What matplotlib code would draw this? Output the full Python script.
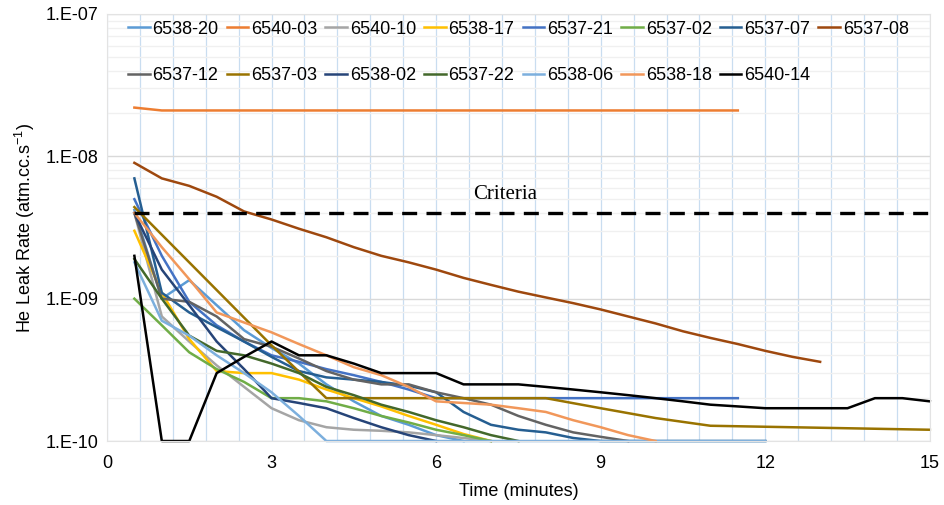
import matplotlib
matplotlib.use('Agg')
import matplotlib.pyplot as plt
from matplotlib.ticker import FixedLocator, MultipleLocator, NullFormatter, LogLocator

plt.rcParams['font.family'] = ['Liberation Sans', 'DejaVu Sans']

# series data: time (minutes) and He leak rate (atm.cc/s)
names = ['6538-20', '6540-03', '6540-10', '6538-17', '6537-21', '6537-02', '6537-07', '6537-08',
         '6537-12', '6537-03', '6538-02', '6537-22', '6538-06', '6538-18', '6540-14']
colors = ['#5B9BD5', '#ED7D31', '#A5A5A5', '#FFC000', '#4472C4', '#70AD47', '#255E91', '#9E480E',
          '#636363', '#997300', '#264478', '#43682B', '#7CAFDD', '#F1975A', '#000000']

t_6538_20 = [0.5, 1, 1.5, 2, 2.5, 3, 3.5, 4, 4.5, 5, 5.5, 6, 6.5]
v_6538_20 = [4.2e-9, 1.0e-9, 1.35e-9, 9e-10, 6e-10, 4.5e-10, 3.5e-10, 2.5e-10, 1.9e-10, 1.5e-10, 1.3e-10, 1.1e-10, 1e-10]

t_6540_03 = [0.5, 1, 11.5]
v_6540_03 = [2.2e-8, 2.1e-8, 2.1e-8]

t_6540_10 = [0.5, 1, 1.5, 2, 2.5, 3, 3.5, 4, 4.5, 5, 5.5, 6, 6.5, 7]
v_6540_10 = [4e-9, 7.5e-10, 5e-10, 3.4e-10, 2.4e-10, 1.7e-10, 1.4e-10, 1.25e-10, 1.2e-10, 1.18e-10, 1.15e-10, 1.1e-10, 1.05e-10, 1e-10]

t_6538_17 = [0.5, 1, 1.5, 2, 2.5, 3, 3.5, 4, 4.5, 5, 5.5, 6, 6.5, 7]
v_6538_17 = [3e-9, 1.1e-9, 5.2e-10, 3.1e-10, 3e-10, 3e-10, 2.7e-10, 2.3e-10, 2e-10, 1.75e-10, 1.5e-10, 1.3e-10, 1.12e-10, 1e-10]

t_6537_21 = [0.5, 1, 1.5, 2, 2.5, 3, 3.5, 4, 4.5, 5, 5.5, 6, 11.5]
v_6537_21 = [5e-9, 2e-9, 9.5e-10, 6.5e-10, 5e-10, 4e-10, 3.6e-10, 3.2e-10, 2.9e-10, 2.6e-10, 2.3e-10, 2e-10, 2e-10]

t_6537_02 = [0.5, 1, 1.5, 2, 2.5, 3, 3.5, 4, 4.5, 5, 5.5, 6, 6.5, 7]
v_6537_02 = [1e-9, 6.5e-10, 4.2e-10, 3.2e-10, 2.6e-10, 2e-10, 2e-10, 1.9e-10, 1.7e-10, 1.5e-10, 1.35e-10, 1.2e-10, 1.1e-10, 1e-10]

t_6537_07 = [0.5, 1, 1.5, 2, 2.5, 3, 3.5, 4, 4.5, 5, 5.5, 6, 6.5, 7, 7.5, 8, 8.5, 9, 12]
v_6537_07 = [7e-9, 1.1e-9, 8e-10, 6.3e-10, 5e-10, 3.9e-10, 3.1e-10, 2.8e-10, 2.7e-10, 2.6e-10, 2.45e-10, 2.2e-10,
             1.6e-10, 1.3e-10, 1.2e-10, 1.15e-10, 1.05e-10, 1e-10, 1e-10]

t_6537_08 = [0.5, 1, 1.5, 2, 2.5, 3, 3.5, 4, 4.5, 5, 5.5, 6, 6.5, 7, 7.5, 8, 8.5, 9, 9.5, 10, 10.5, 11, 11.5, 12, 12.5, 13]
v_6537_08 = [9e-9, 7e-9, 6.2e-9, 5.2e-9, 4.1e-9, 3.6e-9, 3.1e-9, 2.7e-9, 2.3e-9, 2.0e-9, 1.8e-9, 1.6e-9, 1.4e-9,
             1.25e-9, 1.12e-9, 1.02e-9, 9.3e-10, 8.4e-10, 7.5e-10, 6.7e-10, 5.9e-10, 5.3e-10, 4.8e-10, 4.3e-10, 3.9e-10, 3.6e-10]

t_6537_12 = [0.5, 1, 1.5, 2, 2.5, 3, 3.5, 4, 4.5, 5, 5.5, 6, 6.5, 7, 7.5, 8, 8.5, 9, 9.5]
v_6537_12 = [4e-9, 1e-9, 9.5e-10, 7.5e-10, 5.2e-10, 4.6e-10, 3.8e-10, 3.1e-10, 2.7e-10, 2.5e-10, 2.5e-10, 2.2e-10,
             2e-10, 1.8e-10, 1.5e-10, 1.3e-10, 1.15e-10, 1.07e-10, 1e-10]

t_6537_03 = [0.5, 3, 4, 8, 9, 10, 11, 15]
v_6537_03 = [4.4e-9, 4.7e-10, 2e-10, 2e-10, 1.7e-10, 1.45e-10, 1.28e-10, 1.2e-10]

t_6538_02 = [0.5, 1, 1.5, 2, 2.5, 3, 3.5, 4, 4.5, 5, 5.5, 6]
v_6538_02 = [4e-9, 1.6e-9, 9e-10, 5e-10, 3.2e-10, 2e-10, 1.85e-10, 1.7e-10, 1.45e-10, 1.25e-10, 1.1e-10, 1e-10]

t_6537_22 = [0.5, 1, 1.5, 2, 2.5, 3, 3.5, 4, 4.5, 5, 5.5, 6, 6.5, 7, 7.5]
v_6537_22 = [1.9e-9, 1e-9, 5.5e-10, 4.3e-10, 4e-10, 3.5e-10, 3e-10, 2.4e-10, 2.1e-10, 1.8e-10, 1.6e-10, 1.4e-10,
             1.25e-10, 1.1e-10, 1e-10]

t_6538_06 = [0.5, 1, 1.5, 2, 2.5, 3, 3.5, 4, 12]
v_6538_06 = [1.8e-9, 7e-10, 5.5e-10, 4e-10, 3e-10, 2.2e-10, 1.5e-10, 1e-10, 1e-10]

t_6538_18 = [0.5, 1, 1.5, 2, 2.5, 3, 3.5, 4, 4.5, 5, 5.5, 6, 6.5, 7, 7.5, 8, 8.5, 9, 9.5, 10]
v_6538_18 = [4e-9, 2.3e-9, 1.37e-9, 8e-10, 6.8e-10, 5.8e-10, 4.8e-10, 4e-10, 3.3e-10, 2.9e-10, 2.4e-10, 1.9e-10,
             1.85e-10, 1.8e-10, 1.7e-10, 1.6e-10, 1.4e-10, 1.25e-10, 1.1e-10, 1e-10]

t_6540_14 = [0.5, 1, 1.5, 2, 2.5, 3, 3.5, 4, 4.5, 5, 5.5, 6, 6.5, 7, 7.5, 8, 8.5, 9, 9.5, 10, 10.5, 11, 11.5,
             12, 12.5, 13, 13.5, 14, 14.5, 15]
v_6540_14 = [2e-9, 1e-10, 1e-10, 3e-10, 3.9e-10, 5e-10, 4e-10, 4e-10, 3.5e-10, 3e-10, 3e-10, 3e-10, 2.5e-10, 2.5e-10,
             2.5e-10, 2.4e-10, 2.3e-10, 2.2e-10, 2.1e-10, 2.0e-10, 1.9e-10, 1.8e-10, 1.75e-10, 1.7e-10, 1.7e-10,
             1.7e-10, 1.7e-10, 2e-10, 2e-10, 1.9e-10]

criteria_t = [0.5, 15]
criteria_v = [4e-9, 4e-9]

times = [t_6538_20, t_6540_03, t_6540_10, t_6538_17, t_6537_21, t_6537_02, t_6537_07, t_6537_08,
         t_6537_12, t_6537_03, t_6538_02, t_6537_22, t_6538_06, t_6538_18, t_6540_14]
values = [v_6538_20, v_6540_03, v_6540_10, v_6538_17, v_6537_21, v_6537_02, v_6537_07, v_6537_08,
          v_6537_12, v_6537_03, v_6538_02, v_6537_22, v_6538_06, v_6538_18, v_6540_14]

ytick_vals = [1e-10, 1e-9, 1e-8, 1e-7]
ytick_labels = ['1.E-10', '1.E-09', '1.E-08', '1.E-07']

# figure
fig = plt.figure(figsize=(9.44, 5.05), dpi=100)
ax = fig.add_axes([0.1133, 0.1267, 0.8717, 0.8456])

handles = []
for t, v, n, c in zip(times, values, names, colors):
    h, = ax.plot(t, v, color=c, lw=1.8, label=n, clip_on=False, solid_joinstyle='round')
    handles.append(h)

# criteria line
ax.plot(criteria_t, criteria_v, color='black', lw=2.4, ls=(0, (4.5, 2.8)), clip_on=False)
ax.text(7.25, 4.6e-9, 'Criteria', family=['Liberation Serif', 'DejaVu Serif'], fontsize=15,
        ha='center', va='bottom')

ax.set_yscale('log')
ax.set_ylim(1e-10, 1e-7)
ax.set_xlim(0, 15)

ax.yaxis.set_major_locator(FixedLocator(ytick_vals))
ax.set_yticklabels(ytick_labels)
ax.yaxis.set_minor_locator(LogLocator(base=10, subs=[2, 3, 4, 5, 6, 7, 8, 9]))
ax.yaxis.set_minor_formatter(NullFormatter())
ax.xaxis.set_major_locator(MultipleLocator(3))
ax.xaxis.set_minor_locator(MultipleLocator(0.6))

ax.grid(True, axis='y', which='major', color='#D9D9D9', lw=1.0)
ax.grid(True, axis='y', which='minor', color='#F0F0F0', lw=1.0)
ax.grid(True, axis='x', which='both', color='#C9DDF0', lw=0.9)
ax.set_axisbelow(True)

ax.tick_params(which='both', length=0, labelsize=13)
ax.tick_params(axis='x', pad=10)
ax.tick_params(axis='y', pad=6)
for s in ax.spines.values():
    s.set_color('#E3E3E3')

ax.set_xlabel('Time (minutes)', fontsize=13, labelpad=8)
ax.set_ylabel(r'He Leak Rate (atm.cc.s$^{\mathregular{-1}}$)', fontsize=13, labelpad=6)

# legend in row-major order, 8 columns
order = [0, 8, 1, 9, 2, 10, 3, 11, 4, 12, 5, 13, 6, 14, 7]
leg = ax.legend([handles[i] for i in order], [names[i] for i in order], ncol=8, loc='upper center',
                bbox_to_anchor=(0.5, 1.01), frameon=False, fontsize=13, handlelength=1.2,
                handletextpad=0.15, columnspacing=0.45, labelspacing=1.65, borderaxespad=0.2)

fig.savefig('out.png', dpi=100)
